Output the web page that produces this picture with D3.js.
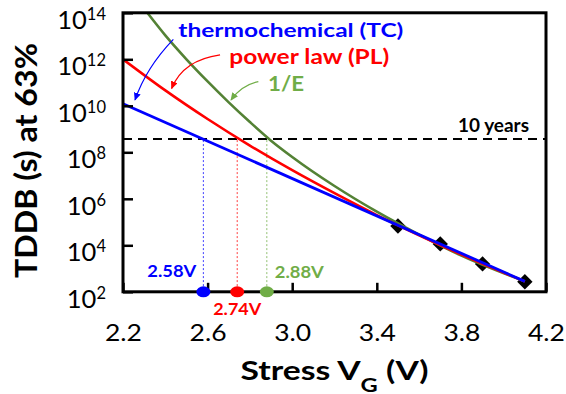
<!DOCTYPE html>
<html><head><meta charset="utf-8">
<script src="https://cdn.jsdelivr.net/npm/d3@7"></script>
<style>body{margin:0;background:#fff}svg{display:block}text{font-family:Lato,"Open Sans",sans-serif}</style>
</head><body><svg id="c" width="566" height="394"></svg>
<script>
// ---- data ----
const stressV = [3.5, 3.7, 3.9, 4.1];
const measuredTDDB = [6.8e4, 1.15e4, 1.58e3, 2.7e2];
const tcV = [2.2, 4.1];
const tcTDDB = [1.23e10, 2.8e2];
const plV = [2.2, 2.4, 2.6, 2.8, 3.0, 3.2, 3.4, 3.6, 3.8, 4.1];
const plTDDB = [1.0e12, 4.6e10, 2.7e9, 1.95e8, 1.7e7, 1.74e6, 2.0e5, 2.7e4, 4.0e3, 2.8e2];
const invEV = [2.315, 2.4, 2.5, 2.6, 2.7, 2.8, 2.9, 3.0, 3.2, 3.4, 3.6, 3.8, 4.1];
const invETDDB = [1.0e14, 1.07e13, 1.0e12, 1.12e11, 1.41e10, 2.0e9, 3.16e8, 6.3e7, 3.55e6, 2.8e5, 2.9e4, 3.6e3, 2.8e2];
const tenYears = 3.7e8;
const crossV = [2.58, 2.74, 2.88];
const crossLabels = ["2.58V", "2.74V", "2.88V"];
const seriesNames = ["thermochemical (TC)", "power law (PL)", "1/E"];
const xTicks = [2.2, 2.6, 3.0, 3.4, 3.8, 4.2];
const yTickExps = [2, 4, 6, 8, 10, 12, 14];

// ---- layout ----
const svg = d3.select("#c");
const x = d3.scaleLinear().domain([2.2, 4.2]).range([123, 546]);
const y = d3.scaleLog().domain([1e2, 1e14]).range([291.8, 12.8]);
const [x0, x1] = x.range(), [yb, yt] = y.range();
const BLUE = "#0000FF", RED = "#FF0000", GREEN_L = "#548235", GREEN_T = "#70AD47";
const colors = [BLUE, RED, GREEN_T];

const defs = svg.append("defs");
defs.append("clipPath").attr("id", "plot").append("rect")
  .attr("x", x0).attr("y", yt).attr("width", x1 - x0).attr("height", yb - yt);
[["aB", BLUE], ["aR", RED], ["aG", GREEN_T]].forEach(([id, c]) => {
  defs.append("marker").attr("id", id).attr("viewBox", "0 0 8 7")
    .attr("refX", 7).attr("refY", 3.5).attr("markerWidth", 8).attr("markerHeight", 7)
    .attr("markerUnits", "userSpaceOnUse").attr("orient", "auto")
    .append("path").attr("d", "M0,0L8,3.5L0,7Z").attr("fill", c);
});

function fit(sel, w) { sel.attr("textLength", w).attr("lengthAdjust", "spacingAndGlyphs"); return sel; }

// 10-year dashed line
svg.append("line").attr("x1", x0).attr("x2", x1)
  .attr("y1", y(tenYears)).attr("y2", y(tenYears))
  .attr("stroke", "#000").attr("stroke-width", 2).attr("stroke-dasharray", "9,6");

// dotted verticals
crossV.forEach((v, i) => {
  svg.append("line").attr("x1", x(v)).attr("x2", x(v))
    .attr("y1", y(tenYears) + 1).attr("y2", yb)
    .attr("stroke", colors[i]).attr("stroke-width", 1).attr("stroke-dasharray", "2,2")
    .attr("opacity", 0.75);
});

// measured diamonds
svg.append("g").selectAll("path").data(stressV).join("path")
  .attr("d", d3.symbol(d3.symbolSquare, 118)())
  .attr("transform", (v, i) => `translate(${x(v)},${y(measuredTDDB[i])}) rotate(45)`)
  .attr("fill", "#000");

// model lines
const line = d3.line().x(d => x(d[0])).y(d => y(d[1])).curve(d3.curveMonotoneX);
const plot = svg.append("g").attr("clip-path", "url(#plot)");
plot.append("path").datum(invEV.map((v, i) => [v, invETDDB[i]])).attr("d", line)
  .attr("fill", "none").attr("stroke", GREEN_L).attr("stroke-width", 2.6);
plot.append("path").datum(plV.map((v, i) => [v, plTDDB[i]])).attr("d", line)
  .attr("fill", "none").attr("stroke", RED).attr("stroke-width", 2.6);
plot.append("path").datum(tcV.map((v, i) => [v, tcTDDB[i]])).attr("d", line)
  .attr("fill", "none").attr("stroke", BLUE).attr("stroke-width", 2.8);

// axes
const xAxis = svg.append("g").attr("transform", `translate(0,${yb})`)
  .call(d3.axisBottom(x).tickValues(xTicks).tickSize(-9).tickFormat(d3.format(".1f")));
xAxis.select(".domain").remove();
xAxis.selectAll(".tick line").attr("stroke-width", 2.5);
xAxis.selectAll(".tick text").attr("y", 49.7).attr("dy", 0)
  .attr("font-size", 24).attr("fill", "#000").style("font-family", "Lato")
  .each(function () { fit(d3.select(this), 37); });

const yVals = yTickExps.map(e => Math.pow(10, e));
const yAxis = svg.append("g").attr("transform", `translate(${x0},0)`)
  .call(d3.axisLeft(y).tickValues(yVals).tickSize(-10).tickFormat(""));
yAxis.select(".domain").remove();
yAxis.selectAll(".tick line").attr("stroke-width", 2.5);
yAxis.selectAll(".tick").each(function (d, i) {
  const t = d3.select(this).select("text").text(null)
    .attr("x", -17).attr("y", 15.5).attr("dy", 0).attr("text-anchor", "end")
    .attr("fill", "#000").style("font-family", "Lato");
  t.append("tspan").attr("font-size", 25.5).text("10");
  t.append("tspan").attr("font-size", 16.5).attr("dy", -9).text(yTickExps[i]);
});

// frame
svg.append("rect").attr("x", x0).attr("y", yt).attr("width", x1 - x0).attr("height", yb - yt)
  .attr("fill", "none").attr("stroke", "#000").attr("stroke-width", 3);

// crossing markers on axis
svg.append("g").selectAll("ellipse").data(crossV).join("ellipse")
  .attr("cx", d => x(d)).attr("cy", yb).attr("rx", 7).attr("ry", 5.5)
  .attr("fill", (d, i) => colors[i]);

// crossing labels
const lab = svg.append("g").attr("font-weight", "bold").attr("font-size", 17);
fit(lab.append("text").attr("x", x(crossV[0]) - 7).attr("y", yb - 14.5)
  .attr("text-anchor", "end").attr("fill", BLUE).text(crossLabels[0]), 49);
fit(lab.append("text").attr("x", x(crossV[1])).attr("y", yb + 23.3)
  .attr("text-anchor", "middle").attr("fill", RED).text(crossLabels[1]), 48);
fit(lab.append("text").attr("x", x(crossV[2]) + 8).attr("y", yb - 14)
  .attr("text-anchor", "start").attr("fill", GREEN_T).text(crossLabels[2]), 49);

// 10 years label
fit(svg.append("text").attr("x", 458).attr("y", 131.5).attr("font-weight", "bold")
  .attr("font-size", 18).attr("fill", "#000").text("10 years"), 71);

// series labels
fit(svg.append("text").attr("x", 178.3).attr("y", 37.3).attr("font-weight", "bold")
  .attr("font-size", 19).attr("fill", BLUE).text(seriesNames[0]), 225);
fit(svg.append("text").attr("x", 229.3).attr("y", 63.5).attr("font-weight", "bold")
  .attr("font-size", 20).attr("fill", RED).text(seriesNames[1]), 160);
fit(svg.append("text").attr("x", 268).attr("y", 90.5).attr("font-weight", "bold")
  .attr("font-size", 21).attr("fill", GREEN_T).text(seriesNames[2]), 36);

// arrows (annotation positions in data space)
const arrows = [
  { pts: [[2.438, 7.2e12], [2.309, 4.3e11], [2.257, 1.8e10]], c: BLUE, m: "aB" },
  { pts: [[2.659, 1.55e12], [2.484, 9.3e11], [2.430, 5.6e10]], c: RED, m: "aR" },
  { pts: [[2.840, 1.1e11], [2.761, 7.8e10], [2.711, 1.8e10]], c: GREEN_T, m: "aG" }
];
arrows.forEach(a => {
  const p = a.pts.map(d => [x(d[0]), y(d[1])]);
  svg.append("path").attr("d", `M${p[0]}Q${p[1]} ${p[2]}`)
    .attr("fill", "none").attr("stroke", a.c).attr("stroke-width", 1.2)
    .attr("marker-end", `url(#${a.m})`);
});

// axis titles
const xt = svg.append("text").attr("x", (x0 + x1) / 2).attr("y", 380)
  .attr("text-anchor", "middle").attr("font-weight", "bold").attr("font-size", 27).attr("fill", "#000");
xt.append("tspan").text("Stress V");
xt.append("tspan").attr("font-size", 19).attr("dy", 11.5).text("G");
xt.append("tspan").attr("dy", -11.5).text(" (V)");
fit(xt, 188);

fit(svg.append("text").attr("transform", "translate(36.5,160.5) rotate(-90)")
  .attr("text-anchor", "middle").attr("font-weight", "bold").attr("font-size", 30)
  .attr("fill", "#000").text("TDDB (s) at 63%"), 235);
</script></body></html>
